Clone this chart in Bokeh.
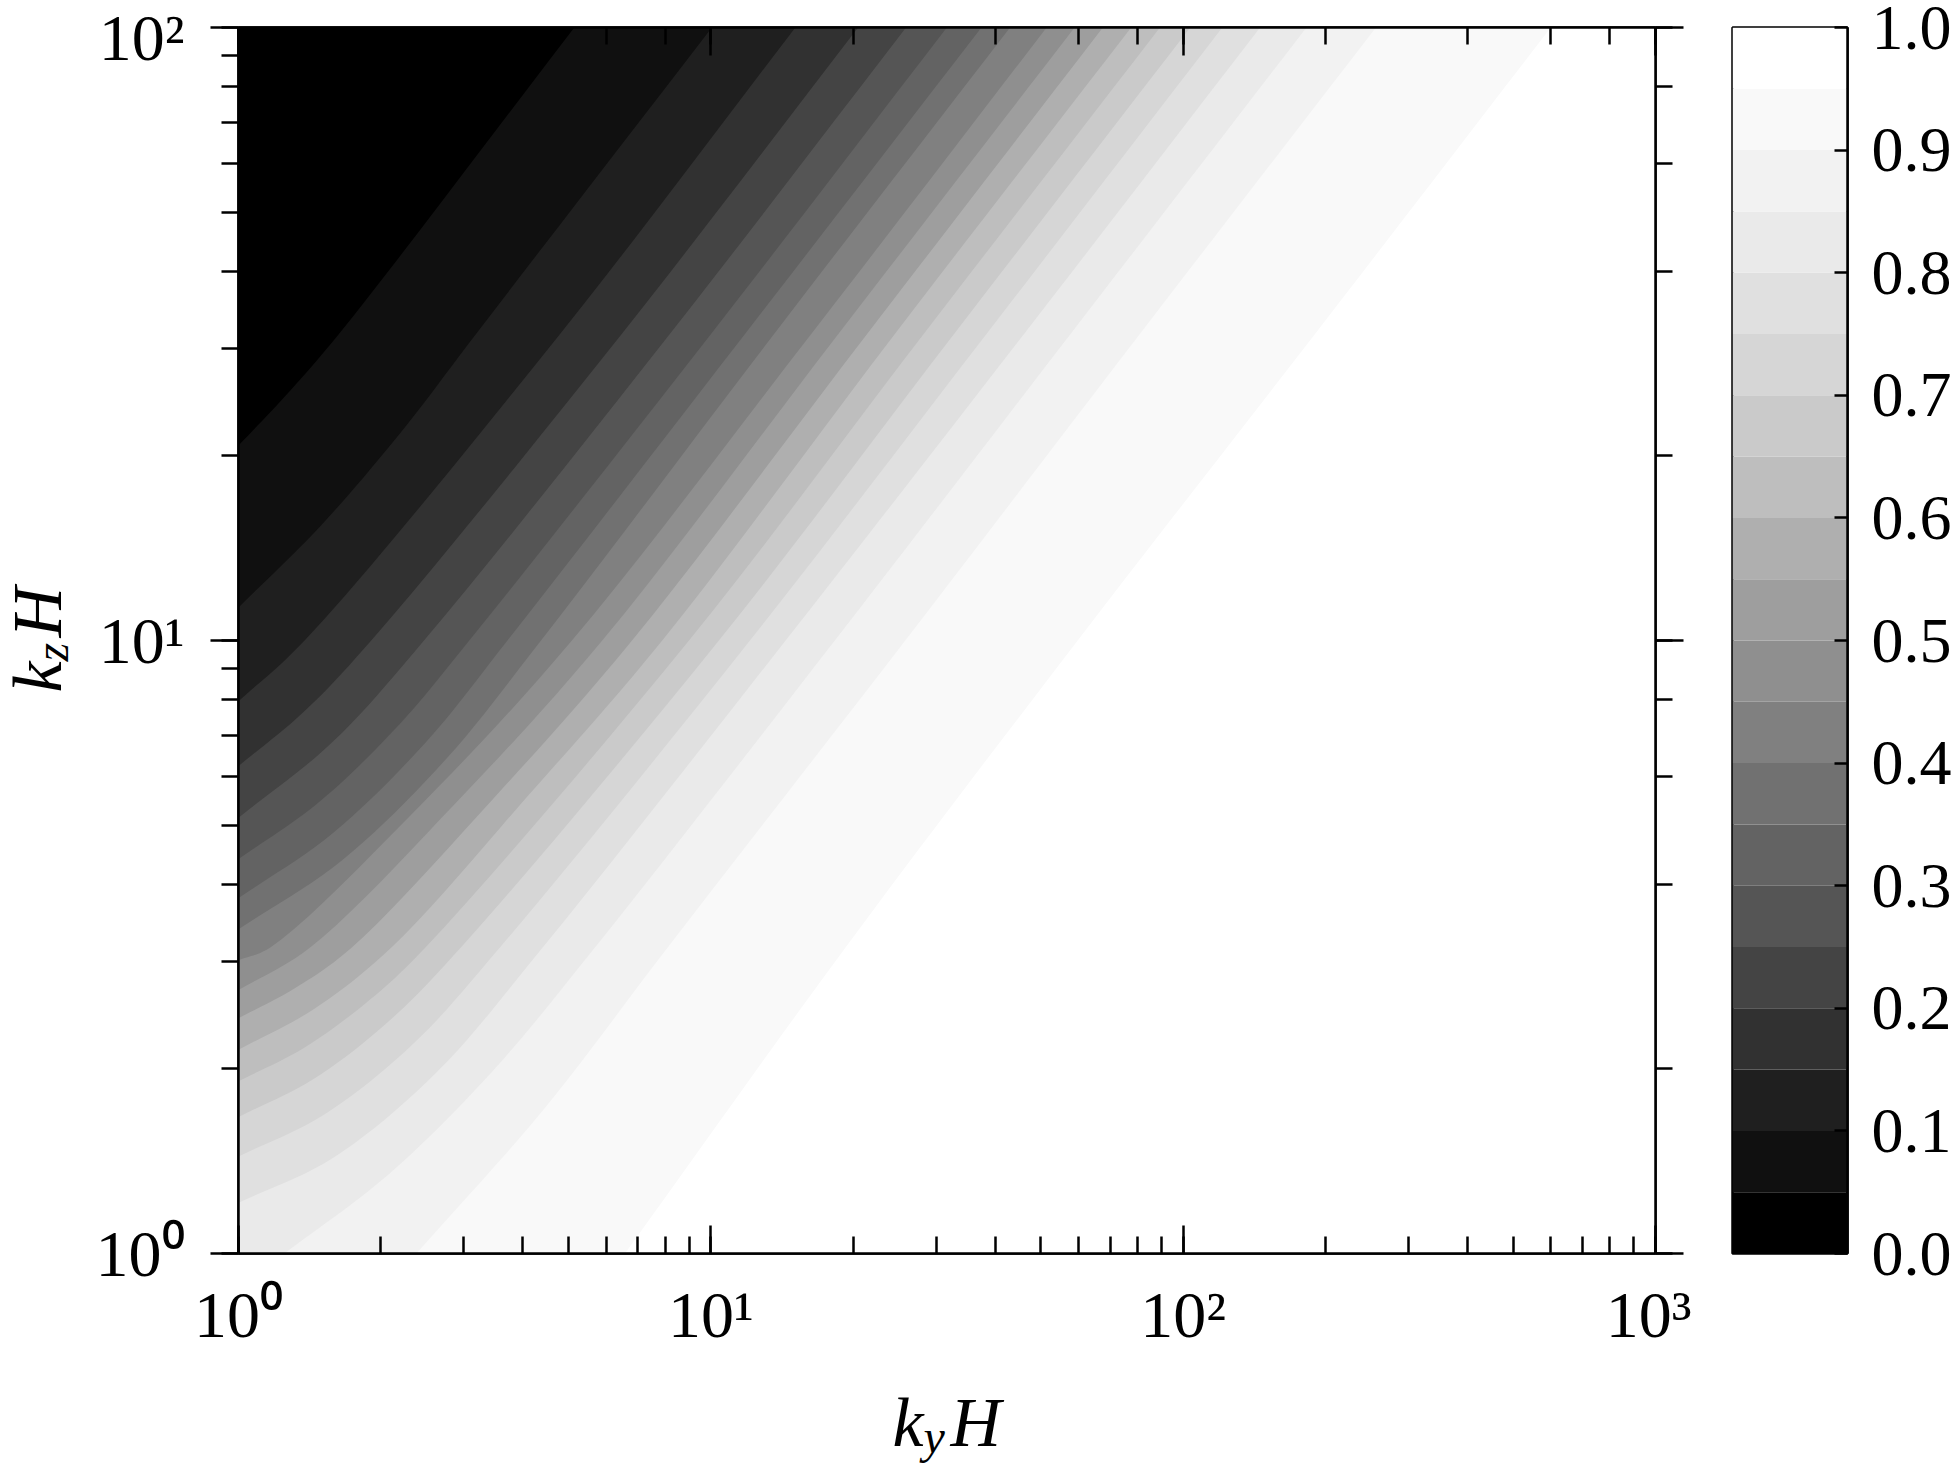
import numpy as np
from bokeh.plotting import figure
from bokeh.models import Range1d, LogAxis, FixedTicker
from bokeh.layouts import row, column
from bokeh.embed import file_html
from bokeh.resources import INLINE
from bokeh.core.properties import value

# ---------------- data ----------------
# contour levels (lower edge of each band above black)
levels = [0.05, 0.10, 0.15, 0.20, 0.25, 0.30, 0.35, 0.40, 0.45, 0.50,
          0.55, 0.60, 0.65, 0.70, 0.75, 0.80, 0.85, 0.90, 0.95]

# boundary of each level, from where it enters the frame (left or bottom edge) to the top edge
bnd_ky = [
    [1.0, 1.259, 1.63, 5.14],
    [1.0, 1.50, 2.24, 3.18, 10.05],
    [1.0, 1.38, 4.79, 15.1],
    [1.0, 1.38, 1.91, 6.47, 20.5],
    [1.0, 1.585, 2.47, 8.18, 25.9],
    [1.0, 1.479, 2.188, 3.08, 10.0, 31.6],
    [1.0, 1.585, 2.512, 3.71, 11.8, 37.4],
    [1.0, 1.660, 2.754, 4.37, 13.6, 43.0],
    [1.0, 1.17, 2.455, 5.08, 16.3, 51.4],
    [1.0, 1.42, 2.884, 5.89, 18.6, 58.9],
    [1.0, 1.318, 1.74, 3.443, 6.81, 21.4, 67.6],
    [1.0, 1.445, 2.11, 4.083, 7.89, 24.5, 77.6],
    [1.0, 1.380, 1.905, 2.49, 8.99, 28.2, 89.3],
    [1.0, 1.445, 2.089, 2.96, 10.4, 32.7, 103.5],
    [1.0, 1.514, 2.344, 3.58, 12.1, 38.3, 121.0],
    [1.0, 1.585, 2.630, 4.41, 14.4, 46.0, 145.5],
    [1.25, 2.078, 3.447, 5.69, 18.3, 57.7, 182.4],
    [2.38, 4.426, 8.11, 25.8, 80.9, 255.9],
    [6.58, 19.3, 59.8, 190.0, 600.0],
]
bnd_kz = [
    [20.8, 25.1, 31.6, 100.0],
    [11.32, 15.45, 22.18, 31.6, 100.0],
    [7.96, 10.0, 31.6, 100.0],
    [6.24, 7.67, 10.0, 31.6, 100.0],
    [5.14, 6.84, 10.0, 31.6, 100.0],
    [4.40, 5.445, 7.29, 10.0, 31.6, 100.0],
    [3.80, 4.853, 6.871, 10.0, 31.6, 100.0],
    [3.38, 4.385, 6.412, 10.0, 31.6, 100.0],
    [3.01, 3.16, 5.433, 10.0, 31.6, 100.0],
    [2.69, 3.16, 5.433, 10.0, 31.6, 100.0],
    [2.42, 2.71, 3.16, 5.495, 10.0, 31.6, 100.0],
    [2.15, 2.506, 3.16, 5.559, 10.0, 31.6, 100.0],
    [1.91, 2.168, 2.600, 3.16, 10.0, 31.6, 100.0],
    [1.67, 1.928, 2.399, 3.16, 10.0, 31.6, 100.0],
    [1.44, 1.683, 2.198, 3.16, 10.0, 31.6, 100.0],
    [1.21, 1.432, 1.977, 3.16, 10.0, 31.6, 100.0],
    [1.0, 1.346, 1.982, 3.16, 10.0, 31.6, 100.0],
    [1.0, 1.718, 3.16, 10.0, 31.6, 100.0],
    [1.0, 3.16, 10.0, 31.6, 100.0],
]

x_tick_labels = {1: "10\u2070", 10: "10\u00b9", 100: "10\u00b2", 1000: "10\u00b3"}
y_tick_labels = {1: "10\u2070", 10: "10\u00b9", 100: "10\u00b2"}
cbar_ticks = [0.0, 0.1, 0.2, 0.3, 0.4, 0.5, 0.6, 0.7, 0.8, 0.9, 1.0]
cbar_labels = {t: f"{t:.1f}" for t in cbar_ticks}
cbar_edges = [0.0, 0.05, 0.10, 0.15, 0.20, 0.25, 0.30, 0.35, 0.40, 0.45, 0.50,
              0.55, 0.60, 0.65, 0.70, 0.75, 0.80, 0.85, 0.90, 0.95, 1.0]
x_title = ["k", "y", "H"]   # k_y H
y_title = ["k", "z", "H"]   # k_z H

XMIN, XMAX, YMIN, YMAX = 1.0, 1000.0, 1.0, 100.0

# ---------------- style ----------------
FONT = "Liberation Serif"
TICK_FS = "66px"
CB_FS = "64px"
TITLE_FS = "70px"
SUB_FS = "48px"
LW = 2.5
# Greys_r colormap, sampled at k/19 for the 20 bands
anch = [0, 37, 82, 115, 150, 189, 217, 240, 255]
def grey(t):
    v = int(round(np.interp(t, np.linspace(0, 1, 9), anch)))
    return "#%02x%02x%02x" % (v, v, v)
n_bands = len(cbar_edges) - 1
band_colors = [grey(k / (n_bands - 1)) for k in range(n_bands)]

# layout (pixels)
PAGE_H = 1467
YLAB_W = 80
MAIN_L, MAIN_R, MAIN_T, MAIN_B = 158, 36, 27, 170
FRAME_W, FRAME_H = 1417, 1226
ROW_H = MAIN_T + FRAME_H + MAIN_B
XLAB_TOP = 1383                      # top of the x-title strip on the page
XLAB_H = PAGE_H - XLAB_TOP
TOTAL_W = 1953
CB_L, CB_W, CB_R = 41, 115, 104


def smooth_path(px, py, n=10):
    """Centripetal Catmull-Rom curve through the read points (drawn in log space)."""
    P = np.column_stack([np.log10(px), np.log10(py)])
    if len(P) < 3:
        return list(px), list(py)
    P = np.vstack([2 * P[0] - P[1], P, 2 * P[-1] - P[-2]])
    out = [P[1]]
    for i in range(1, len(P) - 2):
        p0, p1, p2, p3 = P[i - 1], P[i], P[i + 1], P[i + 2]
        t0 = 0.0
        t1 = t0 + np.linalg.norm(p1 - p0) ** 0.5
        t2 = t1 + np.linalg.norm(p2 - p1) ** 0.5
        t3 = t2 + np.linalg.norm(p3 - p2) ** 0.5
        for t in np.linspace(t1, t2, n + 1)[1:]:
            a1 = (t1 - t) / (t1 - t0) * p0 + (t - t0) / (t1 - t0) * p1
            a2 = (t2 - t) / (t2 - t1) * p1 + (t - t1) / (t2 - t1) * p2
            a3 = (t3 - t) / (t3 - t2) * p2 + (t - t2) / (t3 - t2) * p3
            b1 = (t2 - t) / (t2 - t0) * a1 + (t - t0) / (t2 - t0) * a2
            b2 = (t3 - t) / (t3 - t1) * a2 + (t - t1) / (t3 - t1) * a3
            out.append((t2 - t) / (t2 - t1) * b1 + (t - t1) / (t2 - t1) * b2)
    out = np.array(out)
    return list(10 ** out[:, 0]), list(10 ** out[:, 1])


# ---------------- main plot ----------------
p = figure(x_axis_type="log", y_axis_type="log", title=None,
           x_range=Range1d(XMIN, XMAX), y_range=Range1d(YMIN, YMAX),
           frame_width=FRAME_W, frame_height=FRAME_H,
           min_border_left=MAIN_L, min_border_right=MAIN_R,
           min_border_top=MAIN_T, min_border_bottom=MAIN_B,
           output_backend="svg", toolbar_location=None,
           background_fill_color=band_colors[0], border_fill_color="white")
p.grid.visible = False
p.outline_line_color = "black"
p.outline_line_width = LW
bottom_axis = p.xaxis[0]
left_axis = p.yaxis[0]

xs, ys, cols = [], [], []
for k, (bx, by) in enumerate(zip(bnd_ky, bnd_kz)):
    sx, sy = smooth_path(bx, by)
    px = sx + [XMAX * 2, XMAX * 2]
    py = sy + [YMAX * 2, YMIN]
    if bx[0] <= XMIN:  # enters from the left edge
        px += [XMIN, XMIN / 2]
        py += [YMIN / 2, sy[0]]
    else:
        px += [XMIN, bx[0]]
        py += [YMIN / 2, YMIN / 2]
    xs.append(px)
    ys.append(py)
    cols.append(band_colors[k + 1])
p.patches(xs=xs, ys=ys, fill_color=cols, line_color=None)

top_axis = LogAxis()
right_axis = LogAxis()
p.add_layout(top_axis, "above")
p.add_layout(right_axis, "right")

for ax in [bottom_axis, top_axis]:
    ax.major_tick_in = 28
    ax.major_tick_out = 0
    ax.minor_tick_in = 17
    ax.minor_tick_out = 0
for ax in [left_axis, right_axis]:
    ax.major_tick_in = 0
    ax.major_tick_out = 28
    ax.minor_tick_in = 0
    ax.minor_tick_out = 17
for ax in [bottom_axis, top_axis, left_axis, right_axis]:
    ax.axis_line_width = LW
    ax.major_tick_line_width = LW
    ax.minor_tick_line_width = LW
    ax.axis_line_color = "black"
    ax.major_tick_line_color = "black"
    ax.minor_tick_line_color = "black"
    ax.major_label_text_font = FONT
    ax.major_label_text_font_size = TICK_FS
    ax.major_label_text_color = "black"
for ax in [top_axis, right_axis]:
    ax.major_label_text_font_size = "1px"
    ax.major_label_text_color = None
    ax.major_label_standoff = 0

bottom_axis.major_label_overrides = x_tick_labels
left_axis.major_label_overrides = y_tick_labels
bottom_axis.major_label_standoff = 24
left_axis.major_label_standoff = 26


def side_fig(w, h, xr, yr, top, bottom, fill="white", **kw):
    f = figure(width=w, height=h, x_range=xr, y_range=yr, title=None,
               x_axis_location=None, y_axis_location=None,
               min_border_left=0, min_border_right=0,
               min_border_top=top, min_border_bottom=bottom,
               output_backend="svg", toolbar_location=None,
               background_fill_color=fill, border_fill_color=fill, **kw)
    f.grid.visible = False
    f.outline_line_color = None
    return f


# ---------------- y title (k_z H), rotated; frame spans the plot height ----------------
yl = side_fig(YLAB_W, ROW_H, Range1d(0, YLAB_W), Range1d(0, FRAME_H), MAIN_T, MAIN_B)
ty = dict(text_font=value(FONT), text_font_style="italic", text_color="black",
          text_baseline="alphabetic", text_align="left", angle=np.pi / 2)
yc = (MAIN_T + FRAME_H) - 637   # centre of the title
yl.text(x=[37], y=[yc - 55], text=[y_title[0]], text_font_size=TITLE_FS, **ty)
yl.text(x=[51], y=[yc - 24], text=[y_title[1]], text_font_size=SUB_FS, **ty)
yl.text(x=[37], y=[yc], text=[y_title[2]], text_font_size=TITLE_FS, **ty)

# ---------------- colour bar ----------------
cb = figure(x_range=Range1d(0, 1), y_range=Range1d(0, 1), title=None,
            frame_width=CB_W, frame_height=FRAME_H,
            min_border_left=CB_L, min_border_right=CB_R,
            min_border_top=MAIN_T, min_border_bottom=MAIN_B,
            x_axis_location=None, y_axis_location="right",
            output_backend="svg", toolbar_location=None, border_fill_color="white")
cb.grid.visible = False
cb.outline_line_color = "black"
cb.outline_line_width = LW
cb.quad(left=0, right=1, bottom=cbar_edges[:-1], top=cbar_edges[1:],
        fill_color=band_colors, line_color=None)
cax = cb.yaxis[0]
cax.ticker = FixedTicker(ticks=cbar_ticks, minor_ticks=[])
cax.major_label_overrides = cbar_labels
cax.major_tick_in = 13
cax.major_tick_out = 0
cax.major_tick_line_width = LW
cax.axis_line_width = LW
cax.axis_line_color = "black"
cax.major_label_text_font = FONT
cax.major_label_text_font_size = CB_FS
cax.major_label_text_color = "black"
cax.major_label_standoff = 24

# ---------------- x title (k_y H): transparent strip pulled up under the plot ----------------
xl = side_fig(TOTAL_W, XLAB_H, Range1d(0, TOTAL_W), Range1d(0, XLAB_H), 0, 0,
              fill=None, margin=(XLAB_TOP - ROW_H, 0, 0, 0))
tx = dict(text_font=value(FONT), text_font_style="italic", text_color="black",
          text_align="left", text_baseline="alphabetic")
xl.text(x=[892], y=[45], text=[x_title[0]], text_font_size=TITLE_FS, **tx)
xl.text(x=[923], y=[31], text=[x_title[1]], text_font_size=SUB_FS, **tx)
xl.text(x=[950], y=[45], text=[x_title[2]], text_font_size=TITLE_FS, **tx)

layout = column(row(yl, p, cb), xl)
open("out.html", "w").write(file_html(layout, INLINE))
